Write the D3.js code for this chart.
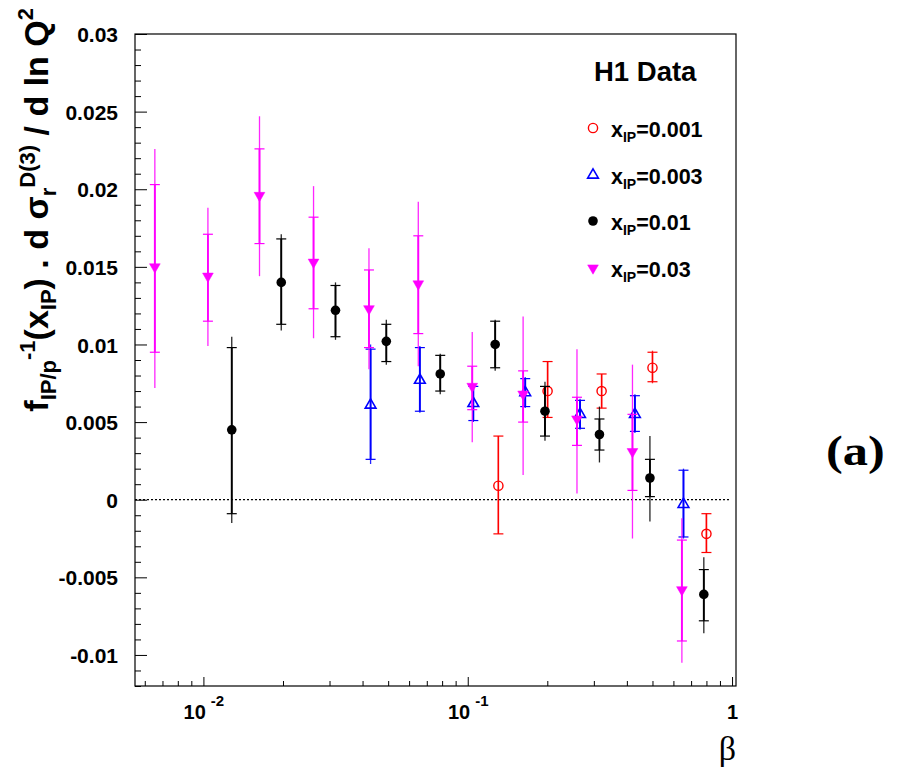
<!DOCTYPE html>
<html><head><meta charset="utf-8">
<script src="https://cdn.jsdelivr.net/npm/d3@7"></script>
<style>
body{margin:0;background:#fff}
svg{display:block}
text{font-family:'Liberation Sans',Arial,Helvetica,sans-serif;font-weight:bold;fill:#000}
</style>
</head><body><svg id="c" width="910" height="774"></svg>
<script>
// ---------- data ----------
const yTickValues = [-0.01, -0.005, 0, 0.005, 0.01, 0.015, 0.02, 0.025, 0.03];
const yTickLabels = ["-0.01", "-0.005", "0", "0.005", "0.01", "0.015", "0.02", "0.025", "0.03"];
const xTickValues = [0.01, 0.1, 1];
const xTickBase = ["10", "10", "1"];
const xTickExp = ["-2", "-1", ""];

const seriesLabels = ["0.001", "0.003", "0.01", "0.03"];

// x_IP = 0.001 (red open circles)
const beta001 = [0.1306, 0.2005, 0.321, 0.500, 0.800];
const val001 = [0.0009, 0.0070, 0.0070, 0.0085, -0.0022];
const statHi001 = [0.0041, 0.0089, 0.0081, 0.0095, -0.0009];
const statLo001 = [-0.0022, 0.0053, 0.0059, 0.0076, -0.0034];
const totHi001 = [0.0041, 0.0089, 0.0081, 0.0096, -0.0009];
const totLo001 = [-0.0022, 0.0053, 0.0059, 0.0075, -0.0034];

// x_IP = 0.003 (blue open triangles)
const beta003 = [0.0429, 0.0659, 0.105, 0.165, 0.266, 0.429, 0.655];
const val003 = [0.0061, 0.0077, 0.0062, 0.0069, 0.0055, 0.0055, -0.0003];
const statHi003 = [0.0097, 0.0098, 0.0073, 0.0078, 0.0064, 0.0067, 0.0019];
const statLo003 = [0.0026, 0.0057, 0.0051, 0.0060, 0.0046, 0.0044, -0.0024];
const totHi003 = [0.0100, 0.0099, 0.0074, 0.0079, 0.0065, 0.0068, 0.0020];
const totLo003 = [0.0023, 0.0056, 0.0050, 0.0059, 0.0045, 0.0043, -0.0025];

// x_IP = 0.01 (black filled circles)
const beta01 = [0.0128, 0.0197, 0.0316, 0.0492, 0.0787, 0.127, 0.196, 0.315, 0.489, 0.782];
const val01 = [0.0045, 0.0140, 0.0122, 0.0102, 0.0081, 0.0100, 0.0057, 0.0042, 0.0014, -0.0061];
const statHi01 = [0.0098, 0.0168, 0.0138, 0.0113, 0.0093, 0.0115, 0.0073, 0.0052, 0.0026, -0.0045];
const statLo01 = [-0.0009, 0.0113, 0.0105, 0.0089, 0.0070, 0.0085, 0.0041, 0.0032, 0.0002, -0.0078];
const totHi01 = [0.0105, 0.0171, 0.0140, 0.0116, 0.0094, 0.0116, 0.0076, 0.0060, 0.0041, -0.0037];
const totLo01 = [-0.0015, 0.0109, 0.0103, 0.0087, 0.0068, 0.0083, 0.0038, 0.0024, -0.0014, -0.0086];

// x_IP = 0.03 (magenta filled down-triangles)
const beta03 = [0.00655, 0.0104, 0.0163, 0.0261, 0.0423, 0.065, 0.104, 0.162, 0.259, 0.420, 0.646];
const val03 = [0.0150, 0.0144, 0.0196, 0.0153, 0.0123, 0.0139, 0.0073, 0.0068, 0.0052, 0.0031, -0.0058];
const statHi03 = [0.0203, 0.0171, 0.0226, 0.0182, 0.0148, 0.0170, 0.0086, 0.0083, 0.0066, 0.0055, -0.0026];
const statLo03 = [0.0095, 0.0115, 0.0165, 0.0123, 0.0098, 0.0107, 0.0058, 0.0050, 0.0035, 0.0006, -0.0091];
const totHi03 = [0.0226, 0.0188, 0.0247, 0.0202, 0.0162, 0.0192, 0.0108, 0.0118, 0.0097, 0.0087, -0.0012];
const totLo03 = [0.0072, 0.0099, 0.0144, 0.0104, 0.0084, 0.0086, 0.0037, 0.0016, 0.0004, -0.0025, -0.0105];

// ---------- layout ----------
const L = 135, R = 736, T = 34, B = 686;
const svg = d3.select("#c");

const x = d3.scaleLog().domain([0.00551, 1.035]).range([L, R]);
const y = d3.scaleLinear().domain([-0.012, 0.03]).range([B, T]);

function build(beta, val, sh, sl, th, tl) {
  return beta.map((b, i) => ({b, v: val[i], sh: sh[i], sl: sl[i], th: th[i], tl: tl[i]}));
}

const series = [
  {name: seriesLabels[0], color: "#ff0000", shape: "circle", fill: false, data: build(beta001, val001, statHi001, statLo001, totHi001, totLo001)},
  {name: seriesLabels[1], color: "#0000ff", shape: "triUp", fill: false, data: build(beta003, val003, statHi003, statLo003, totHi003, totLo003)},
  {name: seriesLabels[2], color: "#000000", shape: "circle", fill: true, data: build(beta01, val01, statHi01, statLo01, totHi01, totLo01)},
  {name: seriesLabels[3], color: "#ff00ff", shape: "triDown", fill: true, data: build(beta03, val03, statHi03, statLo03, totHi03, totLo03)}
];

// ---------- axes ----------
const yAx = svg.append("g").attr("transform", `translate(${L},0)`)
  .call(d3.axisLeft(y).tickValues(yTickValues).tickSize(-12).tickPadding(17)
    .tickFormat((d, i) => yTickLabels[i]));
yAx.select(".domain").remove();
yAx.selectAll("text").style("font-size", "21px").attr("dy", "0.36em");
yAx.selectAll(".tick line").attr("stroke", "#000");
const yMinor = d3.range(-12, 31).map(k => k / 1000).filter(v => Math.abs(Math.round(v * 200) - v * 200) > 1e-6);
const yMin = svg.append("g").attr("transform", `translate(${L},0)`)
  .call(d3.axisLeft(y).tickValues(yMinor).tickSize(-6).tickFormat(""));
yMin.select(".domain").remove();

const xAx = svg.append("g").attr("transform", `translate(0,${B})`)
  .call(d3.axisBottom(x).tickValues(xTickValues).tickSize(-9).tickFormat(""));
xAx.select(".domain").remove();
xAx.selectAll(".tick").each(function(d, i) {
  const t = d3.select(this).append("text").attr("y", 33).attr("text-anchor", "middle")
    .style("font-size", "20px");
  t.append("tspan").text(xTickBase[i]);
  if (xTickExp[i]) t.append("tspan").attr("dx", 5).attr("dy", -13).style("font-size", "15px").text(xTickExp[i]);
});
const xMinorVals = [];
[0.001, 0.01, 0.1].forEach(dec => { for (let k = 2; k <= 9; k++) { const v = dec * k; if (v > 0.00551 && v < 1.035) xMinorVals.push(v); } });
const xMin = svg.append("g").attr("transform", `translate(0,${B})`)
  .call(d3.axisBottom(x).tickValues(xMinorVals).tickSize(-5).tickFormat(""));
xMin.select(".domain").remove();

svg.append("rect").attr("x", L).attr("y", T).attr("width", R - L).attr("height", B - T)
  .attr("fill", "none").attr("stroke", "#000").attr("stroke-width", 1.2);

svg.append("line").attr("x1", L).attr("x2", 730).attr("y1", y(0)).attr("y2", y(0))
  .attr("stroke", "#000").attr("stroke-width", 1.3).attr("stroke-dasharray", "2,2");

// ---------- markers ----------
const triUp = d3.symbol().type(d3.symbolTriangle).size(50);
function drawMarker(g, s, cx, cy) {
  if (s.shape === "circle") {
    g.append("circle").attr("cx", cx).attr("cy", cy).attr("r", s.fill ? 4.8 : 4.6)
      .attr("fill", s.fill ? s.color : "none").attr("stroke", s.color).attr("stroke-width", s.fill ? 0 : 1.4);
  } else {
    g.append("path").attr("d", triUp())
      .attr("transform", `translate(${cx},${cy}) rotate(${s.shape === "triDown" ? 180 : 0})`)
      .attr("fill", s.fill ? s.color : "none").attr("stroke", s.color).attr("stroke-width", s.fill ? 0.5 : 1.6);
  }
}

series.forEach(s => {
  const g = svg.append("g");
  s.data.forEach(d => {
    const cx = x(d.b);
    g.append("line").attr("x1", cx).attr("x2", cx).attr("y1", y(d.tl)).attr("y2", y(d.th))
      .attr("stroke", s.color).attr("stroke-width", 1.3).attr("stroke-opacity", 0.85);
    g.append("line").attr("x1", cx).attr("x2", cx).attr("y1", y(d.sl)).attr("y2", y(d.sh))
      .attr("stroke", s.color).attr("stroke-width", s.color === "#ff0000" ? 1.5 : 1.9);
    [d.sl, d.sh].forEach(e => {
      g.append("line").attr("x1", cx - 5).attr("x2", cx + 5).attr("y1", y(e)).attr("y2", y(e))
        .attr("stroke", s.color).attr("stroke-width", 1.2);
    });
    drawMarker(g, s, cx, y(d.v));
  });
});

// ---------- legend ----------
svg.append("text").attr("x", 594).attr("y", 80.5).style("font-size", "27.5px").text("H1 Data");
const legY = [128, 175, 221, 268];
series.forEach((s, i) => {
  const g = svg.append("g");
  drawMarker(g, s, 593, legY[i]);
  const t = g.append("text").attr("x", 611).attr("y", legY[i] + 8.5).style("font-size", "21.5px");
  t.append("tspan").text("x");
  t.append("tspan").attr("dy", 5).style("font-size", "14px").text("IP");
  t.append("tspan").attr("dy", -5).text("=" + s.name);
});

// ---------- titles ----------
const yt = svg.append("text").attr("transform", "translate(48,8) rotate(-90)")
  .attr("text-anchor", "end").style("font-size", "34px");
yt.append("tspan").text("f");
yt.append("tspan").attr("dy", 8).style("font-size", "22px").text("IP/p");
yt.append("tspan").attr("dy", -21).style("font-size", "22px").text("-1");
yt.append("tspan").attr("dy", 13).text("(x");
yt.append("tspan").attr("dy", 8).style("font-size", "22px").text("IP");
yt.append("tspan").attr("dy", -8).text(") . d \u03c3");
yt.append("tspan").attr("dy", 8).style("font-size", "22px").text("r");
yt.append("tspan").attr("dy", -21).style("font-size", "22px").text("D(3)");
yt.append("tspan").attr("dy", 13).text(" / d ln Q");
yt.append("tspan").attr("dy", -15).style("font-size", "22px").text("2");

svg.append("text").attr("x", 736).attr("y", 760).attr("text-anchor", "end")
  .style("font-family", "'Liberation Serif','Times New Roman',serif").style("font-weight", "normal")
  .style("font-size", "34px").text("\u03b2");

svg.append("text").attr("transform", "translate(826,465) scale(1.2,1)")
  .style("font-family", "'Liberation Serif','Times New Roman',serif")
  .style("font-size", "42px").text("(a)");
</script>
</body></html>
